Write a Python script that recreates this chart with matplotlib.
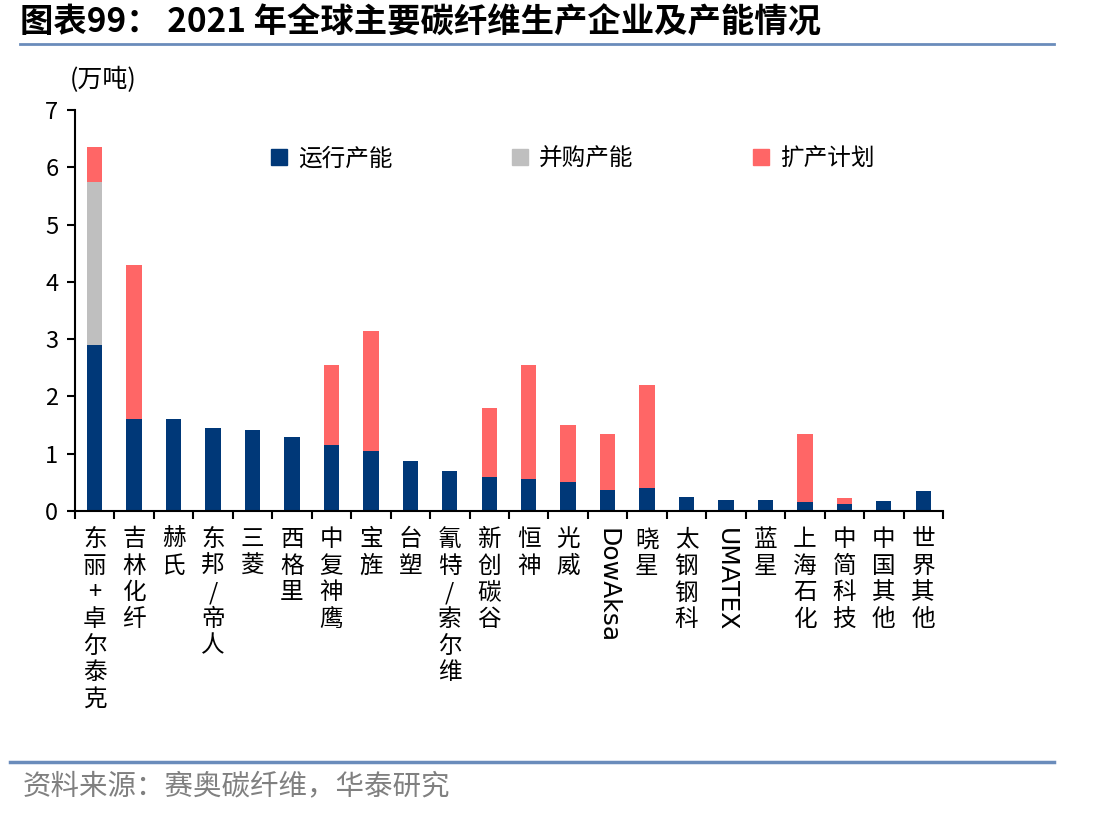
import numpy as np
import matplotlib
matplotlib.use("Agg")
import matplotlib.pyplot as plt
from matplotlib.lines import Line2D

plt.rcParams['font.family'] = ['Noto Sans CJK SC', 'DejaVu Sans']

companies = ['东丽+卓尔泰克', '吉林化纤', '赫氏', '东邦/帝人', '三菱', '西格里', '中复神鹰',
             '宝旌', '台塑', '氰特/索尔维', '新创碳谷', '恒神', '光威', 'DowAksa', '晓星',
             '太钢钢科', 'UMATEX', '蓝星', '上海石化', '中简科技', '中国其他', '世界其他']
running = [2.9, 1.6, 1.6, 1.45, 1.42, 1.3, 1.15, 1.05, 0.88, 0.7, 0.6, 0.55, 0.5, 0.36,
           0.4, 0.24, 0.2, 0.2, 0.15, 0.12, 0.17, 0.35]
acquired = [2.85, 0, 0, 0, 0, 0, 0, 0, 0, 0, 0, 0, 0, 0, 0, 0, 0, 0, 0, 0, 0, 0]
expansion = [0.6, 2.7, 0, 0, 0, 0, 1.4, 2.1, 0, 0, 1.2, 2.0, 1.0, 0.99, 1.8, 0, 0, 0,
             1.2, 0.1, 0, 0]
series_names = ['运行产能', '并购产能', '扩产计划']

blue = '#003878'
grey = '#BFBFBF'
red = '#FF6666'

fig = plt.figure(figsize=(11.12, 8.16), dpi=100)
ax = fig.add_axes([0.0674, 0.3738, 0.7806, 0.4912])

x = np.arange(len(companies))
w = 0.39
run = np.array(running)
acq = np.array(acquired)
exp_ = np.array(expansion)
ax.bar(x, run, w, color=blue, label=series_names[0])
ax.bar(x, acq, w, bottom=run, color=grey, label=series_names[1])
ax.bar(x, exp_, w, bottom=run + acq, color=red, label=series_names[2])

ax.set_xlim(-0.5, len(companies) - 0.5)
ax.set_ylim(0, 7)
ax.set_yticks(range(0, 8))
ax.tick_params(axis='y', direction='out', length=6, width=1.5, labelsize=17, pad=6)
for s in ['top', 'right']:
    ax.spines[s].set_visible(False)
ax.spines['left'].set_linewidth(1.5)
ax.spines['bottom'].set_linewidth(1.5)

# category boundary ticks
ax.set_xticks(np.arange(-0.5, len(companies), 1.0))
ax.set_xticklabels([])
ax.tick_params(axis='x', direction='out', length=6, width=1.5)

for i, name in enumerate(companies):
    if name.isascii():
        ax.text(i, -0.3, name, rotation=-90, ha='center', va='top', fontsize=18,
                family='DejaVu Sans')
    else:
        ax.text(i, -0.3, '\n'.join(name), ha='center', va='top', fontsize=17,
                linespacing=1.2)

ax.text(-0.62, 7.3, '(万吨)', ha='left', va='bottom', fontsize=18)

handles = [Line2D([], [], marker='s', linestyle='none', markersize=11, color=c)
           for c in [blue, grey, red]]
ax.legend(handles, series_names, loc='upper left', bbox_to_anchor=(0.2, 0.96),
          ncol=3, frameon=False, fontsize=17, columnspacing=5.0, handletextpad=0.4,
          handlelength=0.8)

fig.text(0.018, 0.972, '图表99： 2021 年全球主要碳纤维生产企业及产能情况', fontsize=24,
         fontweight='bold', ha='left', va='center')
fig.add_artist(Line2D([0.018, 0.948], [0.946, 0.946], color='#6a8cbb', linewidth=2))
fig.add_artist(Line2D([0.009, 0.948], [0.066, 0.066], color='#6a8cbb', linewidth=2.5))
fig.text(0.02, 0.036, '资料来源：赛奥碳纤维，华泰研究', fontsize=20.5, color='#808080',
         ha='left', va='center')

plt.savefig('out.png', dpi=100)
